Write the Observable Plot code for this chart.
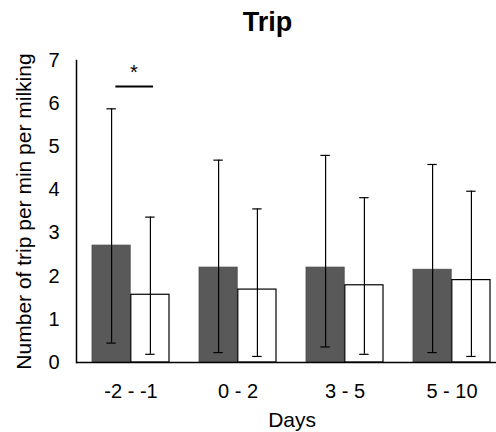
<!DOCTYPE html>
<html><head><meta charset="utf-8">
<script src="https://cdn.jsdelivr.net/npm/d3@7"></script>
<script src="https://cdn.jsdelivr.net/npm/@observablehq/plot@0.6"></script>
<style>
body{margin:0;background:#fff;}
#chart{width:496px;height:432px;overflow:hidden;position:relative;font-family:"Liberation Sans",Arial,sans-serif;}
#title{height:40px;box-sizing:border-box;padding-top:9px;padding-left:39px;text-align:center;font-size:27px;font-weight:bold;line-height:27px;color:#000;}
</style></head><body><div id="chart"><div id="title">Trip</div></div>
<script>
const categories = ["-2 - -1", "0 - 2", "3 - 5", "5 - 10"];
const seriesA = [2.71, 2.20, 2.20, 2.15];      // dark bars
const seriesALow = [0.45, 0.23, 0.36, 0.23];
const seriesAHigh = [5.88, 4.69, 4.80, 4.59];
const seriesB = [1.57, 1.69, 1.79, 1.91];      // white bars
const seriesBLow = [0.19, 0.14, 0.19, 0.14];
const seriesBHigh = [3.37, 3.56, 3.82, 3.97];
const yTicks = [0, 1, 2, 3, 4, 5, 6, 7];
const sigCategory = "-2 - -1";
const sigLevel = 6.4;
const sigLabel = "*";

const xRange = [76, 507.2];
const padIn = 0.2775, padOut = 0.146;
const bw = Plot.scale({x: {type: "band", domain: categories, range: xRange, paddingInner: padIn, paddingOuter: padOut}}).bandwidth;
const half = bw / 2, q = bw / 4, cap = 10;

const rowsA = categories.map((c, i) => ({cat: c, v: seriesA[i], lo: seriesALow[i], hi: seriesAHigh[i]}));
const rowsB = categories.map((c, i) => ({cat: c, v: seriesB[i], lo: seriesBLow[i], hi: seriesBHigh[i]}));
const capInset = (bw - cap) / 2;

const chart = Plot.plot({
  width: 496, height: 392,
  marginTop: 20, marginBottom: 70, marginLeft: 76, marginRight: 496 - xRange[1],
  style: {fontFamily: "Liberation Sans, Arial, sans-serif", fontSize: "20px", color: "#000", background: "transparent", overflow: "hidden"},
  x: {domain: categories, range: xRange, paddingInner: padIn, paddingOuter: padOut, axis: null},
  y: {domain: [0, 7], axis: null},
  marks: [
    Plot.barY(rowsA, {x: "cat", y: "v", fill: "#595959", stroke: "#4a4a4a", strokeWidth: 0.8, insetRight: half}),
    Plot.barY(rowsB, {x: "cat", y: "v", fill: "#fff", stroke: "#000", strokeWidth: 1.2, insetLeft: half}),
    Plot.ruleX(rowsA, {x: "cat", y1: "lo", y2: "hi", dx: -q, stroke: "#000", strokeWidth: 1.2}),
    Plot.ruleX(rowsB, {x: "cat", y1: "lo", y2: "hi", dx: q, stroke: "#000", strokeWidth: 1.2}),
    Plot.tickY(rowsA, {x: "cat", y: "hi", dx: -q, insetLeft: capInset, insetRight: capInset, stroke: "#000", strokeWidth: 1.2}),
    Plot.tickY(rowsA, {x: "cat", y: "lo", dx: -q, insetLeft: capInset, insetRight: capInset, stroke: "#000", strokeWidth: 1.2}),
    Plot.tickY(rowsB, {x: "cat", y: "hi", dx: q, insetLeft: capInset, insetRight: capInset, stroke: "#000", strokeWidth: 1.2}),
    Plot.tickY(rowsB, {x: "cat", y: "lo", dx: q, insetLeft: capInset, insetRight: capInset, stroke: "#000", strokeWidth: 1.2}),
    Plot.tickY([sigLevel], {x: [sigCategory], y: d => d, dx: 3.7, insetLeft: (bw - 38.3) / 2, insetRight: (bw - 38.3) / 2, stroke: "#000", strokeWidth: 2}),
    Plot.text([sigLabel], {x: [sigCategory], y: [sigLevel], text: d => d, dx: 3, dy: -14, fontSize: 20, fill: "#000"}),
    Plot.ruleY([0], {stroke: "#000", strokeWidth: 1.5}),
    Plot.frame({anchor: "left", stroke: "#000", strokeWidth: 1.5}),
    Plot.axisY({ticks: yTicks, tickSize: 0, tickPadding: 17, fontSize: 20, tickFormat: d => String(d), label: null}),
    Plot.axisY({ticks: yTicks, tickSize: 0, tickFormat: () => "", fontSize: 21, label: "Number of trip per min per milking", labelAnchor: "center", labelArrow: false, labelOffset: 60}),
    Plot.axisX({tickSize: 0, tickPadding: 21, fontSize: 20, label: null}),
    Plot.axisX({tickSize: 0, tickFormat: () => "", fontSize: 21, label: "Days", labelAnchor: "center", labelArrow: false, labelOffset: 64})
  ]
});
document.getElementById("chart").appendChild(chart);
</script>
</body></html>
